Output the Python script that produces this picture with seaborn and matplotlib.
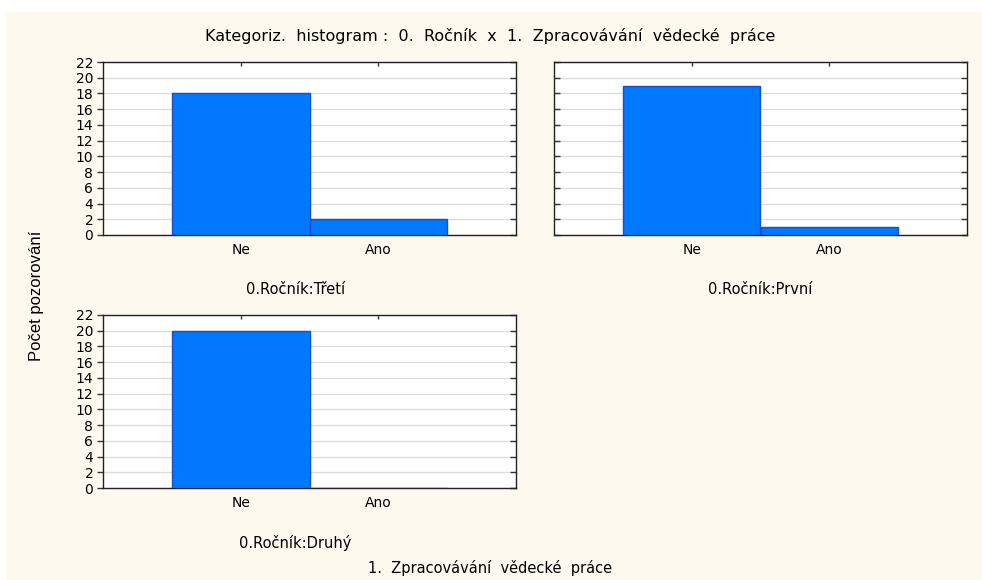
import matplotlib
matplotlib.use("Agg")
import matplotlib.pyplot as plt
import matplotlib.lines as mlines
import seaborn as sns
import pandas as pd
from matplotlib.patches import Rectangle

# data
categories = ["Ne", "Ano"]
panel_names = ["0.Ročník:Třetí", "0.Ročník:První", "0.Ročník:Druhý"]
counts_treti = [18, 2]
counts_prvni = [19, 1]
counts_druhy = [20, 0]
y_ticks = list(range(0, 23, 2))

sns.set_style("white")
plt.rcParams["font.family"] = ["DejaVu Sans"]
plt.rcParams["text.color"] = "black"
plt.rcParams["xtick.labelcolor"] = "black"
plt.rcParams["ytick.labelcolor"] = "black"

W, H = 982, 580
fig = plt.figure(figsize=(W / 100, H / 100), dpi=100)
fig.patch.set_facecolor("white")
fig.patches.append(Rectangle((6 / W, 0), 1, 1 - 12 / H, transform=fig.transFigure,
                             facecolor="#fef9ef", edgecolor="none", zorder=-10))

bar_color = "#0078ff"
edge_color = "#1b4fc4"


def px_axes(left, top, right, bottom):
    return fig.add_axes([left / W, 1 - bottom / H, (right - left) / W, (bottom - top) / H])


panels = [
    (counts_treti, (103, 62, 516, 235), True),
    (counts_prvni, (554, 62, 967, 235), False),
    (counts_druhy, (103, 315, 516, 488), True),
]

for (counts, box, show_y), name in zip(panels, panel_names):
    ax = px_axes(*box)
    df = pd.DataFrame({"kat": categories, "n": counts})
    sns.barplot(data=df, x="kat", y="n", ax=ax, color=bar_color, width=1.0,
                saturation=1, edgecolor=edge_color, linewidth=1, zorder=3)
    ax.set_facecolor("white")
    ax.set_xlim(-1, 2)
    ax.set_ylim(0, 22)
    ax.set_yticks(y_ticks)
    ax.yaxis.grid(True, color="#dcdcdc", linewidth=1, zorder=0)
    ax.set_axisbelow(True)
    for s in ax.spines.values():
        s.set_color("#222222")
        s.set_linewidth(1)
    ax.tick_params(axis="x", which="both", length=3, width=1, color="#333333",
                   labelsize=10, top=True, direction="in", pad=6)
    ax.tick_params(axis="y", which="both", length=4, width=1, color="#333333",
                   labelsize=10, left=True, right=True, direction="in",
                   labelleft=show_y, pad=7 if show_y else 3)
    if show_y:
        # labelled panels: left ticks point outwards, right ones stay inside
        for t in ax.yaxis.get_major_ticks():
            t.tick1line.set_marker(mlines.TICKLEFT)
    ax.set_xlabel("")
    ax.set_ylabel("")
    cx = (box[0] + box[2]) / 2 - (14 if show_y else 0)
    fig.text(cx / W, 1 - (box[3] + 55) / H, name, ha="center", va="center",
             fontsize=10.5)

fig.text(490 / W, 1 - 36 / H, "Kategoriz.  histogram :  0.  Ročník  x  1.  Zpracovávání  vědecké  práce",
         ha="center", va="center", fontsize=11.5)
fig.text(490 / W, 1 - 568 / H, "1.  Zpracovávání  vědecké  práce", ha="center", va="center",
         fontsize=10.5)
fig.text(36 / W, 1 - 296 / H, "Počet pozorování", rotation=90, ha="center", va="center",
         fontsize=12, family=["Liberation Sans", "DejaVu Sans"])

fig.savefig("out.png", dpi=100)
